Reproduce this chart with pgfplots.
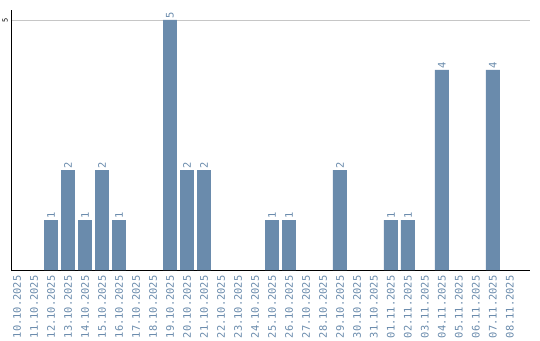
\documentclass[border=0pt]{standalone}
\usepackage{pgfplots}
\pgfplotsset{compat=1.18}
\usepackage{fontspec}
\setmainfont{Liberation Sans}
\setmonofont{DejaVu Sans Mono}
\definecolor{barc}{HTML}{6A8BAC}
\definecolor{labc}{HTML}{6A8BAC}
\begin{document}
\begin{tikzpicture}
\begin{axis}[
  scale only axis,
  width=519pt, height=260pt,
  xmin=-0.353, xmax=30.18,
  ymin=0, ymax=5.2,
  axis x line*=bottom, axis y line*=left,
  axis line style={-, black, line width=1pt},
  xtick={0,...,29},
  xticklabels={10.10.2025,11.10.2025,12.10.2025,13.10.2025,14.10.2025,15.10.2025,16.10.2025,17.10.2025,18.10.2025,19.10.2025,20.10.2025,21.10.2025,22.10.2025,23.10.2025,24.10.2025,25.10.2025,26.10.2025,27.10.2025,28.10.2025,29.10.2025,30.10.2025,31.10.2025,01.11.2025,02.11.2025,03.11.2025,04.11.2025,05.11.2025,06.11.2025,07.11.2025,08.11.2025},
  x tick label style={rotate=90, anchor=east, font=\ttfamily\fontsize{10.4}{11}\selectfont, text=labc, inner sep=0pt, outer sep=0pt},
  xticklabel shift=5.5pt,
  ytick={5}, yticklabels={5},
  y tick label style={rotate=90, anchor=south, font=\ttfamily\fontsize{7}{7}\selectfont, text=black, inner sep=0pt},
  yticklabel shift=3pt,
  major tick length=0pt,
  ymajorgrids, grid style={gray!45, line width=0.8pt},
  ybar, bar width=0.82,
  /pgf/number format/assume math mode=true,
  nodes near coords,
  every node near coord/.append style={rotate=90, anchor=west, font=\ttfamily\fontsize{10.4}{10}\selectfont, text=labc, inner sep=1.5pt},
  clip=false,
]
\addplot[fill=barc, draw=none] coordinates {
(2,1) (3,2) (4,1) (5,2) (6,1) (9,5) (10,2) (11,2) (15,1) (16,1) (19,2) (22,1) (23,1) (25,4) (28,4)
};
\end{axis}
\pgfresetboundingbox
\path ([shift={(-11pt,-70pt)}]current axis.south west) rectangle ([shift={(10pt,10pt)}]current axis.north east);
\end{tikzpicture}
\end{document}
